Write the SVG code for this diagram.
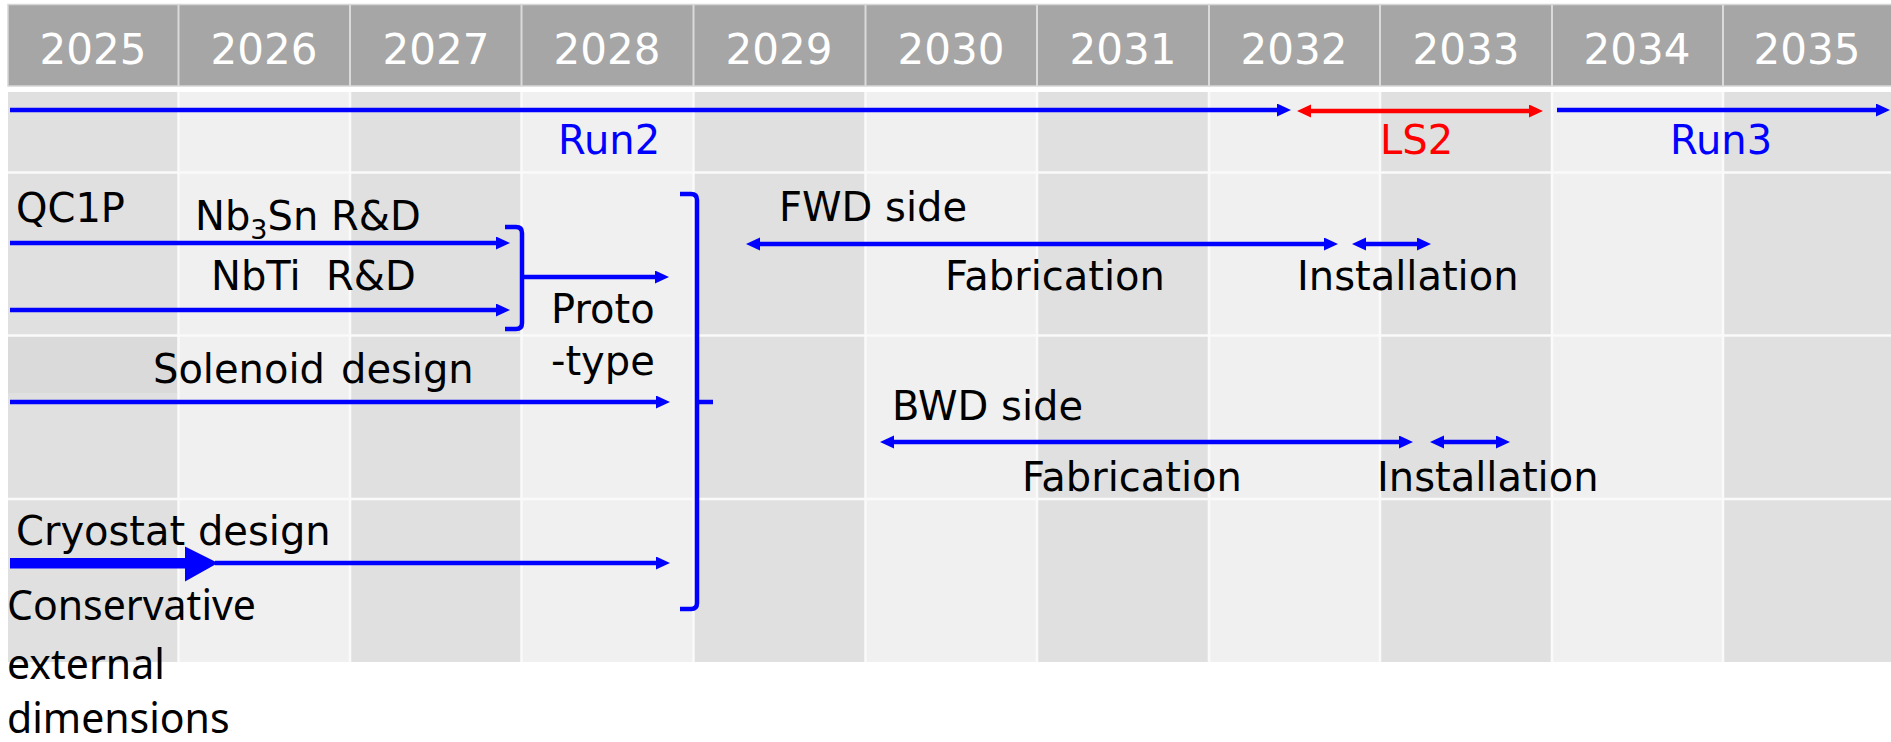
<svg xmlns="http://www.w3.org/2000/svg" width="1891" height="742" viewBox="0 0 1891 742">
  <defs>
    <style>
      .yr { font-family: "DejaVu Sans", "Liberation Sans", sans-serif; font-size: 42px; fill: #ffffff; text-anchor: middle; }
      .lb { font-family: "DejaVu Sans", "Liberation Sans", sans-serif; font-size: 40px; fill: #000000; }
      .blue { fill: #0000ff; }
      .red { fill: #ff0000; }
      .note { font-family: "Noto Sans", "DejaVu Sans", sans-serif; font-size: 41px; fill: #000000; }
      .dark { fill: #e0e0e0; }
      .light { fill: #f0f0f0; }
      .sep { stroke: #fafafa; stroke-width: 2.5; }
      .hsep { stroke: #dadada; stroke-width: 2; }
      .ln { stroke: #0000ff; stroke-width: 4.5; fill: none; }
      .lnr { stroke: #ff0000; stroke-width: 4.5; fill: none; }
      .end { marker-end: url(#ah); }
      .both { marker-start: url(#ah); marker-end: url(#ah); }
      .bothr { marker-start: url(#ahr); marker-end: url(#ahr); }
    </style>
    <marker id="ah" markerUnits="userSpaceOnUse" markerWidth="15" markerHeight="14" refX="4" refY="6.5" orient="auto-start-reverse">
      <path d="M0,0 L14,6.5 L0,13 Z" fill="#0000ff"/>
    </marker>
    <marker id="ahr" markerUnits="userSpaceOnUse" markerWidth="15" markerHeight="14" refX="4" refY="6.5" orient="auto-start-reverse">
      <path d="M0,0 L14,6.5 L0,13 Z" fill="#ff0000"/>
    </marker>
  </defs>

  <rect width="1891" height="742" fill="#ffffff"/>

  <!-- Year header -->
  <g id="header">
    <rect x="8" y="4.5" width="1884" height="81.5" fill="#a6a6a6" stroke="#d6d6d6" stroke-width="1.5"/>
    <g class="hsep">
      <line x1="178.5" y1="5" x2="178.5" y2="86"/>
      <line x1="350" y1="5" x2="350" y2="86"/>
      <line x1="521.5" y1="5" x2="521.5" y2="86"/>
      <line x1="693.5" y1="5" x2="693.5" y2="86"/>
      <line x1="865.5" y1="5" x2="865.5" y2="86"/>
      <line x1="1037" y1="5" x2="1037" y2="86"/>
      <line x1="1209" y1="5" x2="1209" y2="86"/>
      <line x1="1380" y1="5" x2="1380" y2="86"/>
      <line x1="1552" y1="5" x2="1552" y2="86"/>
      <line x1="1723" y1="5" x2="1723" y2="86"/>
    </g>
    <text class="yr" x="93" y="64">2025</text>
    <text class="yr" x="264" y="64">2026</text>
    <text class="yr" x="436" y="64">2027</text>
    <text class="yr" x="607" y="64">2028</text>
    <text class="yr" x="779" y="64">2029</text>
    <text class="yr" x="951" y="64">2030</text>
    <text class="yr" x="1123" y="64">2031</text>
    <text class="yr" x="1294" y="64">2032</text>
    <text class="yr" x="1466" y="64">2033</text>
    <text class="yr" x="1637" y="64">2034</text>
    <text class="yr" x="1807" y="64">2035</text>
  </g>

  <!-- Striped year columns -->
  <g id="grid">
    <rect class="dark" x="8" y="92" width="170.5" height="570"/>
    <rect class="light" x="178.5" y="92" width="171.5" height="570"/>
    <rect class="dark" x="350" y="92" width="171.5" height="570"/>
    <rect class="light" x="521.5" y="92" width="172" height="570"/>
    <rect class="dark" x="693.5" y="92" width="172" height="570"/>
    <rect class="light" x="865.5" y="92" width="171.5" height="570"/>
    <rect class="dark" x="1037" y="92" width="172" height="570"/>
    <rect class="light" x="1209" y="92" width="171" height="570"/>
    <rect class="dark" x="1380" y="92" width="172" height="570"/>
    <rect class="light" x="1552" y="92" width="171" height="570"/>
    <rect class="dark" x="1723" y="92" width="168" height="570"/>
    <rect x="8" y="337" width="170.5" height="56" fill="#dadada"/>
    <g class="sep">
      <line x1="178.5" y1="92" x2="178.5" y2="662"/>
      <line x1="350" y1="92" x2="350" y2="662"/>
      <line x1="521.5" y1="92" x2="521.5" y2="662"/>
      <line x1="693.5" y1="92" x2="693.5" y2="662"/>
      <line x1="865.5" y1="92" x2="865.5" y2="662"/>
      <line x1="1037" y1="92" x2="1037" y2="662"/>
      <line x1="1209" y1="92" x2="1209" y2="662"/>
      <line x1="1380" y1="92" x2="1380" y2="662"/>
      <line x1="1552" y1="92" x2="1552" y2="662"/>
      <line x1="1723" y1="92" x2="1723" y2="662"/>
      <line x1="8" y1="172.5" x2="1891" y2="172.5"/>
      <line x1="8" y1="335.5" x2="1891" y2="335.5"/>
      <line x1="8" y1="499" x2="1891" y2="499"/>
    </g>
  </g>

  <!-- Connectors: schedule arrows and brackets -->
  <g id="connectors">
    <line class="ln end" x1="10" y1="110" x2="1281" y2="110"/>
    <line class="lnr bothr" x1="1307" y1="111" x2="1533" y2="111"/>
    <line class="ln end" x1="1557" y1="110" x2="1880" y2="110"/>

    <line class="ln end" x1="10" y1="243" x2="500" y2="243"/>
    <line class="ln end" x1="10" y1="310" x2="500" y2="310"/>
    <path class="ln" d="M505,227 H516 Q522,227 522,233 V323 Q522,329 516,329 H505"/>
    <line class="ln end" x1="522" y1="277" x2="659" y2="277"/>

    <line class="ln end" x1="10" y1="402" x2="660" y2="402"/>

    <path d="M10,558 H185 V546.5 L218,563 L185,581.5 V568.5 H10 Z" fill="#0000ff"/>
    <line class="ln end" x1="215" y1="563" x2="660" y2="563"/>

    <path class="ln" d="M680,194 H691 Q697,194 697,200 V603 Q697,609 691,609 H680"/>
    <line class="ln" x1="697" y1="402" x2="713" y2="402"/>

    <line class="ln both" x1="756" y1="244" x2="1328" y2="244"/>
    <line class="ln both" x1="1362" y1="244" x2="1421" y2="244"/>
    <line class="ln both" x1="890" y1="442" x2="1403" y2="442"/>
    <line class="ln both" x1="1440" y1="442" x2="1500" y2="442"/>
  </g>

  <!-- Labels -->
  <g id="run2"><text class="lb blue" x="558" y="154">Run2</text></g>
  <g id="ls2"><text class="lb red" x="1380" y="154">LS2</text></g>
  <g id="run3"><text class="lb blue" x="1670" y="154">Run3</text></g>

  <g id="qc1p"><text class="lb" x="16" y="222">QC1P</text></g>
  <g id="nb3sn-rd"><text class="lb" x="195" y="230">Nb<tspan font-size="27px" dy="9">3</tspan><tspan dy="-9">Sn R&amp;D</tspan></text></g>
  <g id="nbti-rd"><text class="lb" x="211" y="290">NbTi <tspan x="326">R&amp;D</tspan></text></g>
  <g id="prototype">
    <text class="lb" x="551" y="323">Proto</text>
    <text class="lb" x="551" y="375">-type</text>
  </g>
  <g id="solenoid"><text class="lb" x="153" y="383">Solenoid <tspan x="341">design</tspan></text></g>
  <g id="cryostat"><text class="lb" x="16" y="545">Cryostat design</text></g>
  <g id="conservative">
    <text class="note" x="7" y="620">Conservative</text>
    <text class="note" x="7" y="679">external</text>
    <text class="note" x="7" y="733">dimensions</text>
  </g>

  <g id="fwd">
    <text class="lb" x="779" y="221">FWD side</text>
    <text class="lb" x="945" y="290">Fabrication</text>
    <text class="lb" x="1297" y="290">Installation</text>
  </g>
  <g id="bwd">
    <text class="lb" x="892" y="420">BWD side</text>
    <text class="lb" x="1022" y="491">Fabrication</text>
    <text class="lb" x="1377" y="491">Installation</text>
  </g>
</svg>
